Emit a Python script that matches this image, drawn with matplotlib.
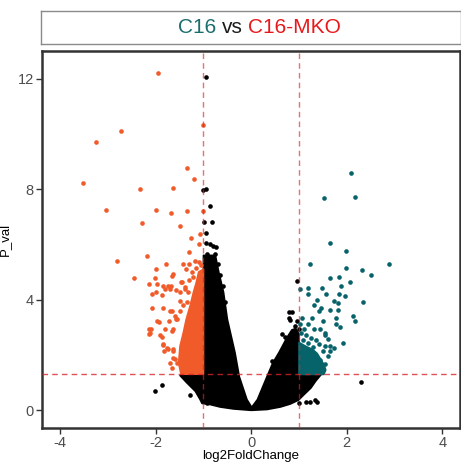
import matplotlib
matplotlib.use("Agg")
import matplotlib.pyplot as plt
from matplotlib.offsetbox import TextArea, HPacker, AnchoredOffsetbox

plt.rcParams["font.family"] = ["Liberation Sans", "DejaVu Sans"]
plt.rcParams["axes.unicode_minus"] = False

# ---- data ----
down_x = [-1.95, -2.73, -3.25, -1.0, -3.53, -1.35, -1.19, -2.32, -1.63,
          -3.04, -2.0, -1.68, -1.35, -1.0, -2.29, -1.49, -1.08, -1.27, -1.10,
          -1.30, -2.18, -2.81, -1.79, -1.43, -1.30, -1.17, -1.10, -1.99, -1.37,
          -1.63, -2.02, -2.46, -1.46, -2.14, -1.75, -1.68, -1.99, -1.57, -2.07,
          -2.08, -1.85, -1.94, -2.10, -2.15, -1.91, -1.73, -1.84, -1.77, -1.64,
          -1.63, -1.66, -1.59, -1.97, -1.66, -1.45, -1.49, -1.43, -1.66, -1.57,
          -1.71, -1.49, -1.38, -1.87, -1.84, -1.80, -1.38, -1.32, -1.70, -1.59,
          -1.56, -1.97, -2.15, -2.12, -1.80, -1.66, -1.87, -1.85, -1.75, -1.82,
          -1.64, -1.63, -1.70, -1.56, -1.49, -1.35, -1.14, -1.21, -1.30, -1.25,
          -1.05, -1.15]
down_y = [12.2, 10.09, 9.69, 10.33, 8.21, 8.77, 8.36, 8.0, 8.03,
          7.23, 7.24, 7.12, 7.21, 7.21, 6.78, 6.66, 6.39, 6.22, 6.02,
          5.72, 5.57, 5.40, 5.30, 5.29, 5.29, 5.40, 5.37, 5.11, 5.11,
          4.92, 4.79, 4.79, 4.65, 4.58, 4.48, 4.48, 4.26, 4.36, 4.19,
          3.68, 3.68, 3.19, 2.95, 2.77, 2.71, 3.23, 2.35, 2.26, 2.93,
          2.2, 1.53, 1.84, 4.56, 4.87, 4.62, 3.59, 3.8, 3.59, 3.29,
          4.38, 4.26, 4.45, 4.18, 4.5, 4.37, 4.38, 4.27, 3.59, 3.41,
          3.29, 3.23, 2.93, 2.78, 2.93, 2.87, 2.63, 2.38, 2.20, 2.12,
          2.14, 1.90, 1.72, 1.70, 3.95, 3.9, 4.2, 4.8, 4.7, 5.0,
          5.25, 5.15]

up_x = [2.08, 1.53, 2.17, 1.65, 1.98, 1.24, 1.98, 2.88, 2.32, 2.50, 1.64,
        1.84, 2.07, 1.19, 1.03, 1.49, 1.88, 1.19, 1.57, 1.84, 1.96, 1.38,
        1.74, 1.81, 2.34, 1.32, 1.46, 1.64, 1.81, 1.41, 1.27, 1.06, 1.77,
        2.13, 2.17, 1.78, 1.86, 1.50, 1.92, 1.74, 1.61, 1.54, 1.45, 1.31,
        1.19, 1.65, 1.55, 1.03, 1.10, 1.04, 1.15, 1.26, 1.36, 1.41, 1.18,
        1.29, 1.08, 1.55, 1.65, 1.51, 1.60, 1.55, 1.45]
up_y = [8.57, 7.67, 7.71, 6.04, 5.75, 5.30, 5.16, 5.30, 5.08, 4.90, 4.79,
        4.82, 4.65, 4.41, 4.38, 4.42, 4.50, 4.19, 4.19, 4.19, 4.12, 3.98,
        3.96, 3.87, 3.92, 3.80, 3.68, 3.63, 3.63, 3.58, 3.35, 3.35, 3.35,
        3.41, 3.23, 3.11, 2.99, 3.23, 2.44, 2.25, 2.56, 2.71, 2.93, 2.93,
        3.11, 2.14, 2.32, 3.11, 2.95, 2.78, 2.71, 2.62, 2.54, 2.38, 2.42,
        2.30, 2.54, 2.79, 2.32, 2.14, 1.96, 1.65, 1.83]

ns_x = [-0.95, -0.95, -1.0, -0.87, -0.98, -0.82, -0.94, -0.94, -0.86, -0.79,
        -0.73, -0.92, -0.76, -2.01, -1.86, -1.28, 2.30, 0.99, 1.15, 1.24,
        1.38, 1.34, 0.96, 0.80, 0.85, 0.79, 0.82, 0.96, 0.92, 0.99, 0.71,
        0.65, 0.82, 0.76, 0.43, -0.96, -0.93, -0.70, -0.66, -0.60, -0.55]
ns_y = [12.07, 8.02, 7.98, 7.37, 6.8, 6.8, 6.42, 6.05, 6.0, 5.95,
        5.9, 5.65, 5.65, 0.68, 0.89, 0.53, 1.01, 0.26, 0.30, 0.30,
        0.30, 0.36, 4.68, 3.54, 3.55, 3.35, 3.27, 3.23, 3.06, 2.93, 2.66,
        2.75, 2.56, 2.42, 1.77, 0.38, 0.27, 5.3, 4.9, 4.5, 3.9]

# outlines of the densely packed (overplotted) point masses
down_dense_x = [-1.0, -1.47, -1.52, -1.49, -1.42, -1.36, -1.28, -1.21, -1.15, -1.10, -1.0]
down_dense_y = [1.3, 1.3, 1.7, 2.32, 2.81, 3.29, 3.77, 4.26, 4.62, 5.0, 5.1]

up_dense_x = [1.0, 1.52, 1.56, 1.52, 1.45, 1.38, 1.28, 1.15, 1.05, 1.0]
up_dense_y = [1.29, 1.29, 1.45, 1.65, 1.85, 2.05, 2.2, 2.3, 2.4, 2.45]

ns_dense_x = [-1.0, -1.0, -1.49, -1.35, -1.17, -1.07, -1.03, -0.86, -0.65, -0.37,
              0.0, 0.33, 0.61, 0.82, 0.99, 1.10, 1.25, 1.35, 1.47, 1.0, 1.0,
              0.93, 0.85, 0.75, 0.58, 0.45, 0.33, 0.13, 0.01, -0.09, -0.25,
              -0.34, -0.50, -0.58, -0.68, -0.75]
ns_dense_y = [5.6, 1.3, 1.25, 0.99, 0.68, 0.38, 0.24, 0.2, 0.11, 0.04,
              -0.01, 0.02, 0.11, 0.22, 0.36, 0.55, 0.8, 1.05, 1.3, 1.3, 2.75,
              2.95, 2.9, 2.63, 2.08, 1.7, 1.21, 0.38, 0.1, 0.38, 1.21,
              2.08, 3.29, 4.27, 5.0, 5.6]

fc_cut = [-1, 1]
p_cut = 1.30
x_ticks = [-4, -2, 0, 2, 4]
y_ticks = [0, 4, 8, 12]

c_down = "#F15A29"
c_up = "#07636A"
c_ns = "black"
c_line = "#D9262B"

fig = plt.figure(figsize=(4.61, 4.62), dpi=100)
ax = fig.add_axes([0.0911, 0.0736, 0.9067, 0.816])
strip = fig.add_axes([0.089, 0.9041, 0.911, 0.0721])

# dense masses drawn with a round edge so they look like packed dots
for xs, ys, c in [(ns_dense_x, ns_dense_y, c_ns),
                  (down_dense_x, down_dense_y, c_down),
                  (up_dense_x, up_dense_y, c_up)]:
    ax.fill(xs, ys, facecolor=c, edgecolor=c, lw=1.2, joinstyle="round", zorder=2)
ax.scatter(ns_x, ns_y, s=11, color=c_ns, lw=0, zorder=3)
ax.scatter(down_x, down_y, s=11, color=c_down, lw=0, zorder=3)
ax.scatter(up_x, up_y, s=11, color=c_up, lw=0, zorder=3)

for v in fc_cut:
    ax.axvline(v, color=c_line, alpha=0.65, lw=1.0, ls=(0, (4, 3)), zorder=4)
ax.axhline(p_cut, color=c_line, alpha=0.8, lw=1.0, ls=(0, (4, 3)), zorder=4)

ax.set_xlim(-4.38, 4.37)
ax.set_ylim(-0.65, 13.0)
ax.set_xticks(x_ticks)
ax.set_yticks(y_ticks)
ax.tick_params(length=4, width=1, color="#333333", labelcolor="#4D4D4D",
               labelsize=10.5, pad=2)
for sp in ax.spines.values():
    sp.set_linewidth(1.8)
    sp.set_color("#333333")
ax.set_xlabel("log2FoldChange", fontsize=9.5, labelpad=0)
ax.set_ylabel("P_val", fontsize=9.5, labelpad=5)

strip.set_xticks([])
strip.set_yticks([])
for sp in strip.spines.values():
    sp.set_linewidth(1.0)
    sp.set_color("#8A8A8A")
parts = [TextArea(t, textprops=dict(color=c, fontsize=15))
         for t, c in [("C16", "#1C6E6E"), ("vs", "#1A1A1A"), ("C16-MKO", "#E8191C")]]
box = AnchoredOffsetbox(loc="center", child=HPacker(children=parts, sep=4, pad=0),
                        frameon=False, bbox_to_anchor=(0.52, 0.5),
                        bbox_transform=strip.transAxes, pad=0, borderpad=0)
strip.add_artist(box)

fig.savefig("out.png", dpi=100)
